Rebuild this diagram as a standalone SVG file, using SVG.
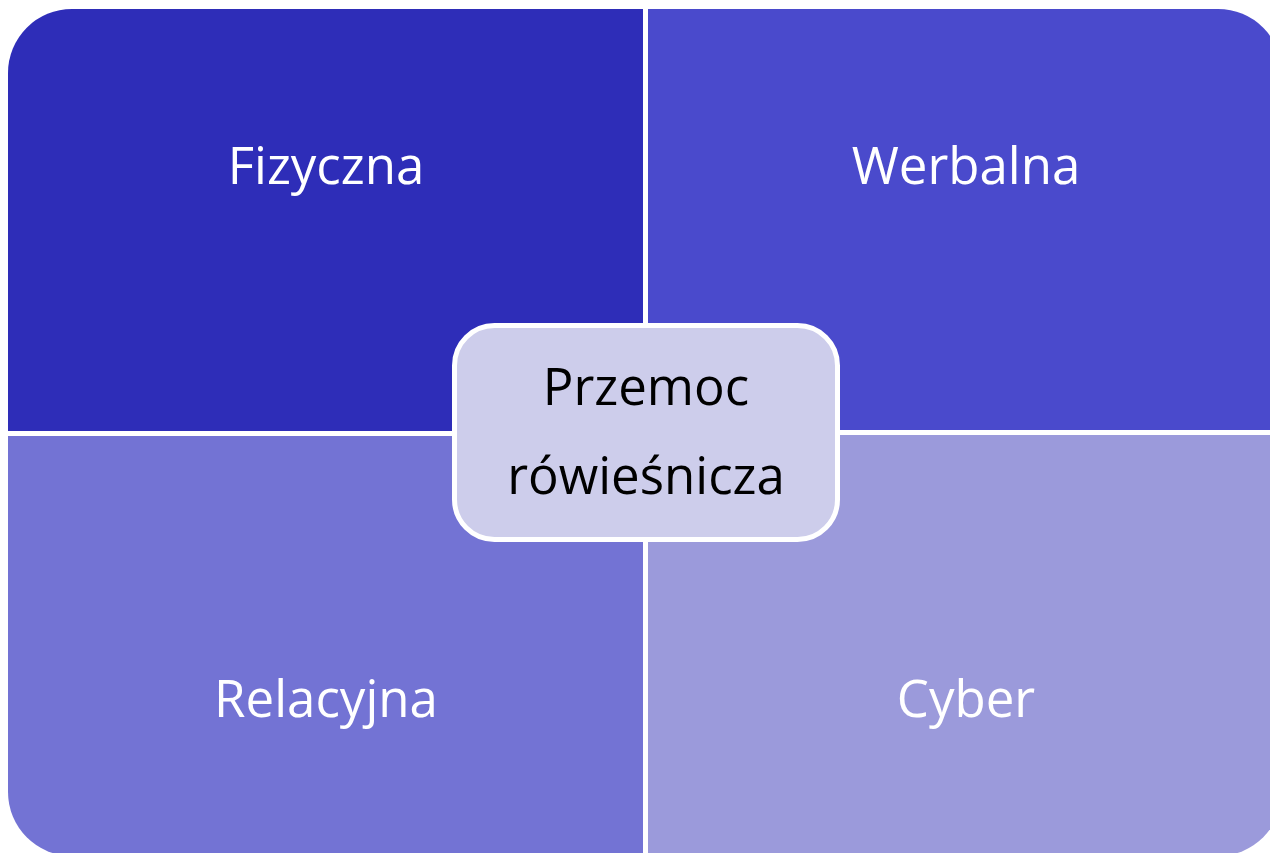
<svg xmlns="http://www.w3.org/2000/svg" width="1270" height="853" viewBox="0 0 1270 853">
<style>
.lbl{font-family:"Open Sans","Liberation Sans",sans-serif;font-size:51px;text-anchor:middle}
.w{fill:#ffffff}
.b{fill:#000000}
</style>
<rect x="0" y="0" width="1270" height="853" fill="#ffffff"/>
<g id="fizyczna">
<path d="M8,431 V73 A64,64 0 0 1 72,9 H643 V431 Z" fill="#2E2DB8"/>
<text class="lbl w" x="326" y="184">Fizyczna</text>
</g>
<g id="werbalna">
<path d="M648,9 H1218 A64,64 0 0 1 1282,73 V430 H648 Z" fill="#4A4ACC"/>
<text class="lbl w" x="966" y="184">Werbalna</text>
</g>
<g id="relacyjna">
<path d="M8,436 H643 V856 H72 A64,64 0 0 1 8,792 Z" fill="#7373D4"/>
<text class="lbl w" x="326" y="717">Relacyjna</text>
</g>
<g id="cyber">
<path d="M648,435 H1282 V792 A64,64 0 0 1 1218,856 H648 Z" fill="#9B9ADB"/>
<text class="lbl w" x="966" y="717">Cyber</text>
</g>
<g id="connectors"></g>
<g id="przemoc">
<rect x="454.5" y="325.5" width="383" height="214" rx="40" ry="40" fill="#CDCDEB" stroke="#ffffff" stroke-width="5"/>
<text class="lbl b" x="646" y="405">Przemoc</text>
<text class="lbl b" x="646" y="494">rówieśnicza</text>
</g>
</svg>
